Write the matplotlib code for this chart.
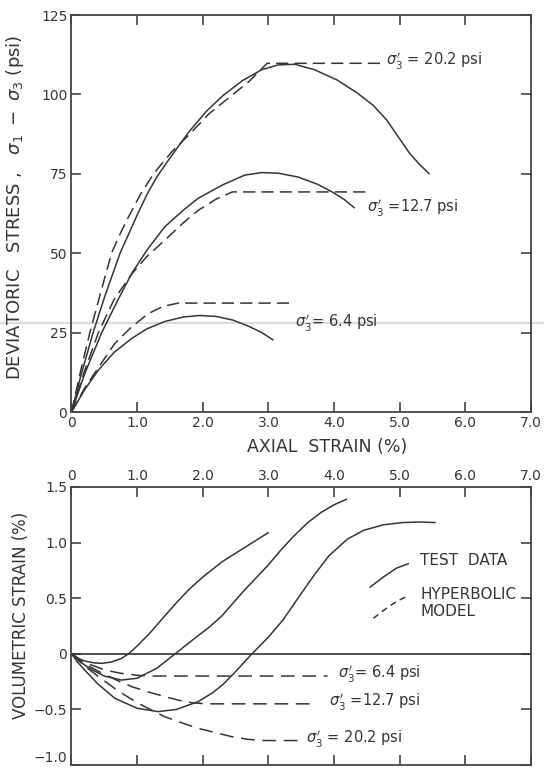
import matplotlib
matplotlib.use("Agg")
import matplotlib.pyplot as plt
from matplotlib.lines import Line2D

plt.rcParams['font.family'] = ['DejaVu Sans']
plt.rcParams['mathtext.fontset'] = 'dejavusans'

# ---------------- data ----------------
x_ticks = [0, 1, 2, 3, 4, 5, 6, 7]
x_ticklabels = ["0", "1.0", "2.0", "3.0", "4.0", "5.0", "6.0", "7.0"]
dev_ticks = [0, 25, 50, 75, 100, 125]
dev_ticklabels = ["0", "25", "50", "75", "100", "125"]
vol_ticks = [-1.0, -0.5, 0, 0.5, 1.0, 1.5]
vol_ticklabels = ["\u22121.0", "\u22120.5", "0", "0.5", "1.0", "1.5"]

# deviatoric stress - test data (solid)
strain_s20 = [0, 0.15, 0.33, 0.5, 0.74, 1.0, 1.15, 1.3, 1.45, 1.58, 1.8, 2.06, 2.3, 2.6, 2.9, 3.15, 3.4, 3.7, 4.05, 4.35, 4.6, 4.8, 5.0, 5.15, 5.3, 5.45]
dev_s20 = [0, 12, 25, 36, 50, 62, 68.5, 74, 78.5, 82.3, 88.5, 94.8, 99.5, 104.3, 107.8, 109.3, 109.5, 107.8, 104.5, 100.5, 96.5, 92, 86, 81.5, 78, 75]
strain_s12 = [0, 0.2, 0.46, 0.7, 0.92, 1.15, 1.42, 1.7, 1.93, 2.3, 2.64, 2.9, 3.15, 3.45, 3.75, 3.97, 4.15, 4.31]
dev_s12 = [0, 12, 25, 35, 43.7, 51, 58.3, 63.5, 67.3, 71.5, 74.6, 75.4, 75.2, 74, 71.7, 69.3, 67, 64.3]
strain_s6 = [0, 0.2, 0.41, 0.65, 0.92, 1.15, 1.42, 1.7, 1.95, 2.2, 2.45, 2.7, 2.9, 3.07]
dev_s6 = [0, 7, 13.2, 18.8, 23.2, 26.2, 28.5, 29.9, 30.4, 30.1, 29, 27, 25, 22.7]

# deviatoric stress - hyperbolic model (dashed)
strain_h20 = [0, 0.14, 0.28, 0.45, 0.61, 0.75, 0.87, 1.05, 1.25, 1.53, 1.8, 2.1, 2.4, 2.7, 2.98, 4.73]
dev_h20 = [0, 13, 25, 38, 50, 56.5, 61.5, 68.5, 75, 82, 87.5, 94, 99, 104, 109.8, 109.8]
strain_h12 = [0, 0.2, 0.41, 0.65, 0.92, 1.15, 1.42, 1.7, 1.93, 2.2, 2.45, 4.55]
dev_h12 = [0, 13, 25, 35.5, 43.5, 49, 54.1, 59.5, 63.5, 67, 69.3, 69.3]
strain_h6 = [0, 0.2, 0.41, 0.66, 0.9, 1.17, 1.4, 1.63, 3.33]
dev_h6 = [0, 7.5, 14, 21.6, 26.5, 31, 33.3, 34.3, 34.3]

# volumetric strain - test data (solid)
vs6_x = [0, 0.1, 0.2, 0.35, 0.46, 0.6, 0.75, 0.87, 1.0, 1.2, 1.42, 1.6, 1.8, 2.0, 2.3, 2.65, 3.0]
vs6_y = [0, -0.04, -0.065, -0.082, -0.086, -0.075, -0.045, 0, 0.07, 0.19, 0.34, 0.46, 0.585, 0.69, 0.83, 0.96, 1.09]
vs12_x = [0, 0.15, 0.3, 0.5, 0.76, 1.0, 1.3, 1.58, 1.9, 2.1, 2.29, 2.6, 3.0, 3.2, 3.39, 3.6, 3.8, 4.0, 4.19]
vs12_y = [0, -0.08, -0.14, -0.2, -0.236, -0.22, -0.13, 0, 0.15, 0.24, 0.34, 0.55, 0.8, 0.94, 1.06, 1.18, 1.27, 1.34, 1.39]
vs20_x = [0, 0.1, 0.2, 0.4, 0.66, 1.0, 1.32, 1.6, 1.93, 2.15, 2.3, 2.5, 2.75, 3.0, 3.23, 3.45, 3.7, 3.92, 4.2, 4.45, 4.75, 5.04, 5.3, 5.54]
vs20_y = [0, -0.08, -0.146, -0.27, -0.4, -0.49, -0.52, -0.5, -0.43, -0.35, -0.28, -0.16, 0, 0.15, 0.31, 0.5, 0.71, 0.88, 1.03, 1.11, 1.16, 1.18, 1.185, 1.18]

# volumetric strain - hyperbolic model (dashed)
vh6_x = [0, 0.15, 0.3, 0.51, 0.75, 1.0, 1.2, 1.42, 3.9]
vh6_y = [0, -0.06, -0.1, -0.146, -0.175, -0.193, -0.2, -0.2, -0.2]
vh12_x = [0, 0.2, 0.45, 0.7, 0.92, 1.15, 1.42, 1.65, 1.83, 2.05, 3.74]
vh12_y = [0, -0.09, -0.17, -0.24, -0.296, -0.34, -0.385, -0.42, -0.44, -0.45, -0.45]
vh20_x = [0, 0.2, 0.4, 0.7, 1.0, 1.2, 1.42, 1.7, 1.93, 2.2, 2.44, 2.7, 2.95, 3.55]
vh20_y = [0, -0.11, -0.2, -0.33, -0.44, -0.5, -0.566, -0.625, -0.67, -0.71, -0.745, -0.77, -0.78, -0.78]

# legend sample strokes
leg_solid_x = [4.55, 4.75, 4.95, 5.13]
leg_solid_y = [0.60, 0.69, 0.77, 0.81]
leg_dash_x = [4.6, 4.8, 4.98, 5.13]
leg_dash_y = [0.32, 0.41, 0.48, 0.52]

# ---------------- styling ----------------
INK = "#353535"
LW = 1.1
DASH_TOP = (8, 4)
DASH_BOT = (9, 5)

fig = plt.figure(figsize=(5.44, 7.71), dpi=100)

# scan artefact line
fig.add_artist(Line2D([0, 1], [1 - 323 / 771, 1 - 323 / 771], transform=fig.transFigure,
                      color="#dcdcdc", lw=1.6, zorder=0))

ax1 = fig.add_axes([0.1314, 0.4656, 0.8447, 0.5149])
ax2 = fig.add_axes([0.1314, 0.00778, 0.8447, 0.3606])

for ax in (ax1, ax2):
    ax.set_facecolor("none")
    for s in ax.spines.values():
        s.set_color("#444444")
        s.set_linewidth(1.3)
    ax.set_xlim(0, 7)
    ax.tick_params(direction="in", length=7, width=1.2, color="#444444",
                   labelsize=10, labelcolor=INK, pad=3,
                   top=True, right=True)

# ---- top panel ----
ax1.set_ylim(0, 125)
ax1.set_xticks(x_ticks)
ax1.set_xticklabels(x_ticklabels)
ax1.set_yticks(dev_ticks)
ax1.set_yticklabels(dev_ticklabels)

for xs, ys in ((strain_s20, dev_s20), (strain_s12, dev_s12), (strain_s6, dev_s6)):
    ax1.plot(xs, ys, color=INK, lw=LW, solid_capstyle="round", solid_joinstyle="round")
for xs, ys in ((strain_h20, dev_h20), (strain_h12, dev_h12), (strain_h6, dev_h6)):
    ax1.plot(xs, ys, color=INK, lw=LW, dashes=DASH_TOP)

lab_kw = dict(color=INK, fontsize=10.5, va="center", ha="left")
ax1.text(4.79, 110.3, r"$\sigma_3'$ = 20.2 psi", **lab_kw)
ax1.text(4.50, 64.0, r"$\sigma_3'$ =12.7 psi", **lab_kw)
ax1.text(3.40, 28.0, r"$\sigma_3'$= 6.4 psi", **lab_kw)

# ---- bottom panel ----
ax2.set_ylim(-1.0, 1.5)
ax2.set_xticks(x_ticks)
ax2.set_xticklabels(x_ticklabels)
ax2.set_yticks(vol_ticks)
ax2.set_yticklabels(vol_ticklabels)
ax2.tick_params(axis="x", labeltop=True, labelbottom=False)
for lbl in ax2.get_yticklabels():
    if lbl.get_text() == "\u22121.0":
        lbl.set_verticalalignment("bottom")
ax2.axhline(0, color=INK, lw=1.2)

for xs, ys in ((vs6_x, vs6_y), (vs12_x, vs12_y), (vs20_x, vs20_y)):
    ax2.plot(xs, ys, color=INK, lw=LW, solid_capstyle="round", solid_joinstyle="round")
for xs, ys in ((vh6_x, vh6_y), (vh12_x, vh12_y), (vh20_x, vh20_y)):
    ax2.plot(xs, ys, color=INK, lw=LW, dashes=DASH_BOT)

ax2.text(4.06, -0.19, r"$\sigma_3'$= 6.4 psi", **lab_kw)
ax2.text(3.92, -0.44, r"$\sigma_3'$ =12.7 psi", **lab_kw)
ax2.text(3.58, -0.77, r"$\sigma_3'$ = 20.2 psi", **lab_kw)

ax2.plot(leg_solid_x, leg_solid_y, color=INK, lw=LW)
ax2.plot(leg_dash_x, leg_dash_y, color=INK, lw=LW, dashes=(4, 3))
ax2.text(5.31, 0.835, "TEST  DATA", color=INK, fontsize=11, va="center", ha="left")
ax2.text(5.31, 0.53, "HYPERBOLIC", color=INK, fontsize=11, va="center", ha="left")
ax2.text(5.31, 0.38, "MODEL", color=INK, fontsize=11, va="center", ha="left")

# ---- axis titles ----
fig.text(15 / 544, 1 - 207 / 771,
         r"DEVIATORIC   STRESS ,   $\sigma_1\ -\ \sigma_3$ (psi)",
         rotation=90, ha="center", va="center", fontsize=13, color=INK)
fig.text(327 / 544, 1 - 447 / 771, "AXIAL  STRAIN (%)",
         ha="center", va="center", fontsize=12.5, color=INK)
fig.text(21 / 544, 1 - 615 / 771, "VOLUMETRIC STRAIN (%)",
         rotation=90, ha="center", va="center", fontsize=12, color=INK)

fig.savefig("out.png", dpi=100)
